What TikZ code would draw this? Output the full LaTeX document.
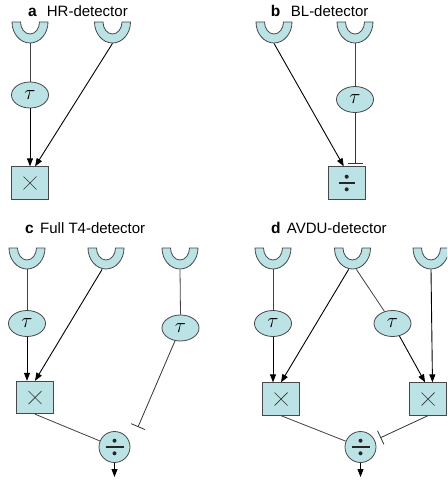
\documentclass[tikz,border=0pt]{standalone}
\usepackage{fontspec}
\setmainfont{Liberation Sans}
\usetikzlibrary{arrows.meta,shapes.geometric,calc}
\definecolor{cellfill}{RGB}{187,226,228}
\definecolor{celledge}{RGB}{72,72,72}

% half-ring receptor: invisible node for anchors plus the drawn cup
\newcommand\cupnode[2]{%
  \node[cup] (#1) at #2 {};
  \filldraw[cupshape] (#1.north) ++(-9.5,0)
    arc[start angle=180,end angle=360,x radius=9.5pt,y radius=12pt]
    -- ++(8.5,0)
    arc[start angle=0,end angle=-180,x radius=18pt,y radius=21pt] -- cycle;
}

\tikzset{
  cup/.style={rectangle,minimum width=36pt,minimum height=21pt,inner sep=0pt,anchor=north},
  cupshape/.style={fill=cellfill,draw=celledge,line width=0.8pt},
  cell/.style={draw=celledge,fill=cellfill,line width=0.8pt,inner sep=0pt},
  delay/.style={cell,ellipse,minimum width=37pt,minimum height=26pt,
    font=\fontsize{21}{21}\selectfont},
  timessym/.style={path picture={
    \draw[line width=0.7pt,black!80] (path picture bounding box.center) ++(-6.5,-6.5) -- ++(13,13)
      ++(0,-13) -- ++(-13,13);}},
  divsym/.style={path picture={
    \draw[line width=1.1pt,black!85] (path picture bounding box.center) ++(-#1,0) -- ++({2*#1},0);
    \fill[black!85] (path picture bounding box.center) ++(0,-6.3) circle[radius=2pt]
      ++(0,12.6) circle[radius=2pt];}},
  mult/.style={cell,rectangle,minimum width=36.5pt,minimum height=32.5pt,timessym},
  divbox/.style={cell,rectangle,minimum width=36.5pt,minimum height=32.5pt,divsym=8},
  divcirc/.style={cell,circle,minimum size=31pt,divsym=9},
  plain/.style={line width=0.8pt,black!75},
  arr/.style={-{Triangle[length=8pt,width=6pt]},line width=0.9pt,black},
  inh/.style={-{Bar[width=15pt]},line width=0.8pt,black!80},
  lab/.style={anchor=base west,inner sep=0pt,font=\bfseries\fontsize{15.5}{18}\selectfont},
  ttl/.style={anchor=base west,inner sep=0pt,font=\fontsize{15}{18}\selectfont},
}

\begin{document}
\begin{tikzpicture}[x=1pt,y=-1pt]
\useasboundingbox (0,0) rectangle (447,481);
\clip (0,0) rectangle (447,481);

% ---------- a: HR-detector ----------
\node[lab] (la) at (28,16.7) {a};
\node[ttl] (ta) at (46.7,16.7) {HR-detector};
\cupnode{a1}{(30,22)}
\cupnode{a2}{(112.5,22)}
\node[delay] (at1) at (30,95) {$\tau$};
\node[mult] (ax) at (30,183) {};
\draw[plain] (a1.south) -- (at1.north);
\draw[arr] (at1.south) -- (ax.north);
\draw[arr] (a2.south) -- (ax.73);

% ---------- b: BL-detector ----------
\node[lab] (lb) at (270.7,16.7) {b};
\node[ttl] (tb) at (290.7,16.7) {BL-detector};
\cupnode{b1}{(274,22)}
\cupnode{b2}{(355,22)}
\node[delay] (bt) at (355,99.5) {$\tau$};
\node[divbox] (bd) at (346.7,183) {};
\draw[plain] (b2.south) -- (bt.north);
\draw[inh,shorten >=3pt] (bt.south) -- (bt.south |- bd.north);
\draw[arr] (b1.south) -- (bd.100);

% ---------- c: Full T4-detector ----------
\node[lab] (lc) at (25,233.3) {c};
\node[ttl] (tc) at (40,233.3) {Full T4-detector};
\cupnode{c1}{(27,248)}
\cupnode{c2}{(106,248)}
\cupnode{c3}{(180,248)}
\node[delay] (ct1) at (27,323.5) {$\tau$};
\node[delay] (ct2) at (180.5,328) {$\tau$};
\node[mult] (cx) at (35,397.5) {};
\node[divcirc] (cd) at (114.5,447) {};
\coordinate (cbar) at (138,427);
\coordinate (cout) at (114.5,477);
\draw[plain] (c1.south) -- (ct1.north);
\draw[plain] (c3.south) -- (ct2.north);
\draw[arr] (ct1.south) -- (ct1.south |- cx.north);
\draw[arr] (c2.250) -- (cx.north);
\draw[plain] (cx.south) -- (cd);
\draw[inh] (ct2) -- (cbar);
\draw[arr] (cd.south) -- (cout);

% ---------- d: AVDU-detector ----------
\node[lab] (ld) at (271,233.3) {d};
\node[ttl] (td) at (286.7,233.3) {AVDU-detector};
\cupnode{d1}{(273,248)}
\cupnode{d2}{(352.5,248)}
\cupnode{d3}{(431,248)}
\node[delay] (dt1) at (273,323.5) {$\tau$};
\node[delay] (dt2) at (392.5,323.5) {$\tau$};
\node[mult] (dx1) at (281,399) {};
\node[mult] (dx2) at (428,399) {};
\node[divcirc] (dd) at (360.5,447) {};
\coordinate (dout) at (360.5,477);
\draw[plain] (d1.south) -- (dt1.north);
\draw[arr] (dt1.south) -- (dt1.south |- dx1.north);
\draw[arr] (d2.250) -- (dx1.north);
\draw[plain] (d2.290) -- (dt2);
\draw[arr] (dt2) -- (dx2.100);
\draw[arr] (d3.south) -- (dx2.75);
\draw[plain] (dx1.south) -- (dd);
\draw[inh,shorten >=6pt] (dx2.south) -- (dd);
\draw[arr] (dd.south) -- (dout);
\end{tikzpicture}
\end{document}
